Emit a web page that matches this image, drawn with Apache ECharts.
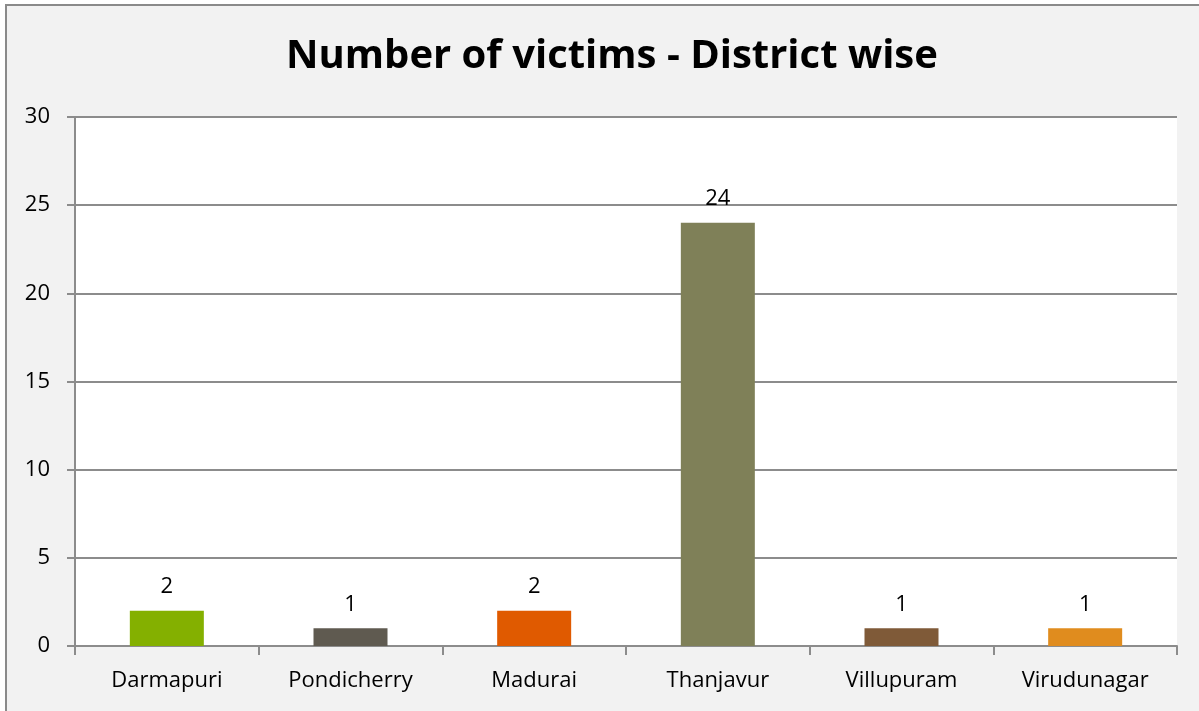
<!DOCTYPE html>
<html>
<head>
<meta charset="utf-8">
<script src="https://cdn.jsdelivr.net/npm/echarts@6/dist/echarts.min.js"></script>
<style>
  html, body { margin: 0; padding: 0; background: #fff; }
  #chart { width: 1199px; height: 711px; }
</style>
</head>
<body>
<div id="chart"></div>
<script>
// 区县
const districts = ["Darmapuri", "Pondicherry", "Madurai", "Thanjavur", "Villupuram", "Virudunagar"];
// 受害人数
const victims = [2, 1, 2, 24, 1, 1];
const barColors = ["#84b000", "#5f5a50", "#e05a00", "#7f8058", "#7f5a38", "#e08c1e"];
const yTicks = { min: 0, max: 30, interval: 5 };

let chart = echarts.init(document.getElementById("chart"));
const font = "'Open Sans', 'Noto Sans', sans-serif";

let option = {
  backgroundColor: "#fff",
  animation: false,
  graphic: [{
    type: "rect",
    z: -10,
    shape: { x: 6, y: 5, width: 1240, height: 740 },
    style: { fill: "#f2f2f2", stroke: "#8a8a8a", lineWidth: 2 }
  }],
  title: {
    text: "Number of victims - District wise",
    left: 281,
    top: 32,
    textStyle: { fontFamily: font, fontSize: 40, fontWeight: "bold", color: "#000" }
  },
  grid: {
    show: true,
    left: 75, right: 22, top: 117, bottom: 65,
    backgroundColor: "#fff",
    borderWidth: 0
  },
  xAxis: {
    type: "category",
    data: districts,
    axisLine: { lineStyle: { color: "#8c8c8c", width: 2 } },
    axisTick: { show: true, length: 9, lineStyle: { color: "#8c8c8c", width: 2 } },
    axisLabel: { color: "#000", fontFamily: font, fontSize: 22, margin: 24 }
  },
  yAxis: {
    type: "value",
    min: yTicks.min, max: yTicks.max, interval: yTicks.interval,
    axisLine: { show: true, lineStyle: { color: "#8c8c8c", width: 2 } },
    axisTick: { show: true, length: 8, lineStyle: { color: "#8c8c8c", width: 2 } },
    axisLabel: { color: "#000", fontFamily: font, fontSize: 22, margin: 25 },
    splitLine: { lineStyle: { color: "#8c8c8c", width: 2 } }
  },
  series: [{
    type: "bar",
    barWidth: 74,
    data: victims.map((v, i) => ({ value: v, itemStyle: { color: barColors[i] } })),
    label: {
      show: true,
      position: "top",
      distance: 13,
      color: "#000",
      fontFamily: font,
      fontSize: 22
    }
  }]
};

chart.setOption(option);
</script>
</body>
</html>
